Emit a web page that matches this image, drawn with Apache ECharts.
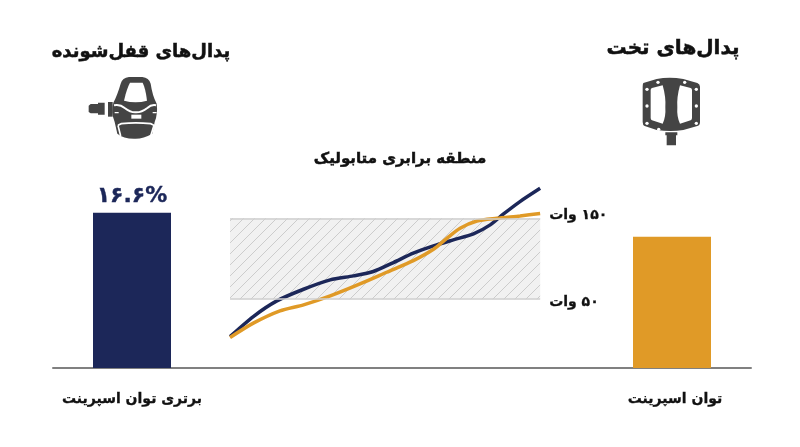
<!DOCTYPE html>
<html lang="fa">
<head>
<meta charset="utf-8">
<script src="https://cdn.jsdelivr.net/npm/echarts@6/dist/echarts.min.js"></script>
<style>html,body{margin:0;padding:0;background:#fff}#c{width:800px;height:447px}</style>
</head>
<body>
<div id="c" dir="rtl"></div>
<script>
const clipTitle = 'پدال‌های قفل‌شونده';
const flatTitle = 'پدال‌های تخت';
const zoneTitle = 'منطقه برابری متابولیک';
const clipLabel = 'برتری توان اسپرینت';
const flatLabel = 'توان اسپرینت';
const clipValueLabel = '۱۶.۶%';
const clipBar = [118.3];
const flatBar = [100];
const zoneBounds = [50, 150];
const zoneLabels = ['۵۰ وات', '۱۵۰ وات'];
const navyX = [0,7.5,15.1,23.7,32.3,39.8,46.2,52.7,59.1,65.6,72,78.5,83.9,88.2,93.5,100];
const navyW = [3.9,28.6,47.9,62.3,73.9,78.8,84.2,95.3,106.8,115.8,123.3,130.7,141.8,155.3,170.6,187];
const goldX = [0,7.5,16.1,23.7,32.3,41.9,50.5,59.1,65.6,69.9,74.2,79.6,86,93.5,100];
const goldW = [2.7,20.4,35.6,43,54.1,68.9,83.3,97.7,111.7,125.3,137.7,146.7,150,152.9,155.8];

const NAVY = '#1c2759', GOLD = '#e09a27', DARK = '#444444', INK = '#111111';
const FONT = '"DejaVu Sans"';

const tile = document.createElement('canvas');
tile.width = tile.height = 11;
const t = tile.getContext('2d');
t.fillStyle = '#f1f1f1'; t.fillRect(0,0,11,11);
t.strokeStyle = '#cccccc'; t.lineWidth = 1;
t.beginPath(); t.moveTo(-1,12); t.lineTo(12,-1); t.moveTo(-1,1); t.lineTo(1,-1); t.moveTo(10,12); t.lineTo(12,10); t.stroke();

const chart = echarts.init(document.getElementById('c'), null, {renderer:'canvas'});

const heavy = (color, w) => ({fontFamily:FONT, fontWeight:'bold', color, textBorderColor:color, textBorderWidth:w});
const heading = (text, x, y, size) => ({text, left:x, top:y, textAlign:'center', padding:0,
  textStyle:Object.assign({fontSize:size}, heavy(INK, 0.5))});

const hidden = {show:false};
const barX = (gridIndex, label, padding) => ({type:'category', gridIndex, data:[label],
  axisLine:hidden, axisTick:hidden,
  axisLabel:Object.assign({fontSize:14, margin:24, padding}, heavy(INK, 0.3))});
const barY = gridIndex => ({type:'value', gridIndex, min:0, max:145, show:false});

const shapes = [];
let shapeNo = 0;
const P = (d, fill, stroke, lw, x, y) => {
  const name = 'iconPath' + (shapeNo++);
  echarts.graphic.registerShape(name, echarts.graphic.extendPath(d, {}));
  return {type:name, x, y, scaleX:1/3, scaleY:1/3, silent:true,
    style:{fill:fill||'none', stroke:stroke||'none', lineWidth:lw||0}};
};
const C = (cx, cy, r, x, y) => ({type:'circle', x, y, scaleX:1/3, scaleY:1/3, silent:true,
  shape:{cx, cy, r}, style:{fill:'#fff'}});

// clipless pedal icon
const cx = 84, cy = 72;
shapes.push(P('M14 101 L20 96 H42 V92 H62 V128 H42 V124 H20 L14 120Z', DARK, null, 0, cx, cy));
shapes.push(P('M72 90 H86 V134 H72Z', DARK, null, 0, cx, cy));
shapes.push(P('M88 92 Q100 70 110 35 Q115 17 135 15 H175 Q195 17 200 35 Q205 70 218 95 Q222 125 212 150 L205 185 Q175 202 150 200 Q118 200 100 185 L92 150 Q80 120 88 92Z', DARK, null, 0, cx, cy));
shapes.push(P('M120 86 Q128 50 138 32 H176 Q185 50 189 86 Q155 96 120 86Z', '#fff', null, 0, cx, cy));
shapes.push(P('M90 100 Q108 96 122 108 Q140 122 155 121 Q172 122 190 108 Q202 97 216 100', 'none', '#fff', 6, cx, cy));
shapes.push(P('M92 122 H104 M206 122 H218', 'none', '#fff', 4, cx, cy));
shapes.push(P('M102 160 L112 155 Q155 150 200 155 L210 160 L200 192 M102 160 L110 192', 'none', '#fff', 5, cx, cy));
shapes.push(P('M142 128 L172 128 L172 140 L142 140Z', '#fff', null, 0, cx, cy));

// flat pedal icon
const fx = 636, fy = 72;
shapes.push(P('M22 33 L62 21 Q100 14 142 21 L184 33 Q192 36 192 44 L192 150 Q192 160 184 162 L142 174 Q105 180 62 174 L26 162 Q20 160 20 150 L20 44 Q20 36 22 33Z', DARK, null, 0, fx, fy));
shapes.push(P('M88 181 H124 V190 H120 V220 H92 V190 H88Z', DARK, null, 0, fx, fy));
shapes.push(P('M48 48 L80 40 Q90 75 88 105 Q90 135 80 155 L48 145 Q44 143 44 138 V54 Q44 50 48 48Z', '#fff', null, 0, fx, fy));
shapes.push(P('M164 48 L132 40 Q122 75 124 105 Q122 135 132 155 L164 145 Q168 143 168 138 V54 Q168 50 164 48Z', '#fff', null, 0, fx, fy));
[[66,31],[146,31],[33,52],[181,52],[33,102],[181,102],[33,154],[181,154],[68,172]].forEach(h => shapes.push(C(h[0],h[1],5,fx,fy)));

chart.setOption({
  animation:false,
  backgroundColor:'#fff',
  title:[heading(clipTitle,141,43,18), heading(flatTitle,673,39,20), heading(zoneTitle,400,152,15)],
  grid:[
    {left:53, top:177.8, width:158, height:190.2},
    {left:593, top:177.8, width:158, height:190.2},
    {left:53, top:177.8, width:698, height:190.2}
  ],
  xAxis:[
    barX(0, clipLabel, 0), barX(1, flatLabel, [0,0,0,6]),
    {type:'value', gridIndex:2, min:-57.1, max:168, splitLine:hidden, axisTick:hidden, axisLabel:hidden,
     axisLine:{onZero:false, lineStyle:{color:'#808080', width:2}}}
  ],
  yAxis:[
    barY(0), barY(1),
    {type:'value', gridIndex:2, min:-35, max:200, show:false}
  ],
  series:[
    {type:'line', xAxisIndex:2, yAxisIndex:2, data:[], silent:true, showSymbol:false,
     markArea:{silent:true, itemStyle:{color:{image:tile, repeat:'repeat'}},
       data:[[{coord:[0,zoneBounds[0]]},{coord:[100,zoneBounds[1]]}]]},
     markLine:{silent:true, symbol:'none', animation:false,
       lineStyle:{color:'#cfcfcf', width:1.5, type:'solid'},
       label:Object.assign({position:'end', fontSize:14, distance:9}, heavy(INK, 0.3)),
       data:[
         [{coord:[0,zoneBounds[1]]},{coord:[100,zoneBounds[1]], label:{formatter:zoneLabels[1], offset:[0,-3]}}],
         [{coord:[0,zoneBounds[0]]},{coord:[100,zoneBounds[0]], label:{formatter:zoneLabels[0], offset:[0,3]}}]
       ]}},
    {type:'line', xAxisIndex:2, yAxisIndex:2, smooth:0.25, showSymbol:false, silent:true,
     lineStyle:{color:NAVY, width:3.5, cap:'butt'}, data:navyX.map((x,i)=>[x,navyW[i]])},
    {type:'line', xAxisIndex:2, yAxisIndex:2, smooth:0.25, showSymbol:false, silent:true,
     lineStyle:{color:GOLD, width:3.5, cap:'butt'}, data:goldX.map((x,i)=>[x,goldW[i]])},
    {type:'bar', xAxisIndex:0, yAxisIndex:0, barWidth:78, data:clipBar, itemStyle:{color:NAVY},
     label:Object.assign({show:true, position:'top', formatter:clipValueLabel, fontSize:22, distance:6}, heavy(NAVY, 0.4))},
    {type:'bar', xAxisIndex:1, yAxisIndex:1, barWidth:78, data:flatBar, itemStyle:{color:GOLD}}
  ],
  graphic:{elements:shapes}
});
</script>
</body>
</html>
